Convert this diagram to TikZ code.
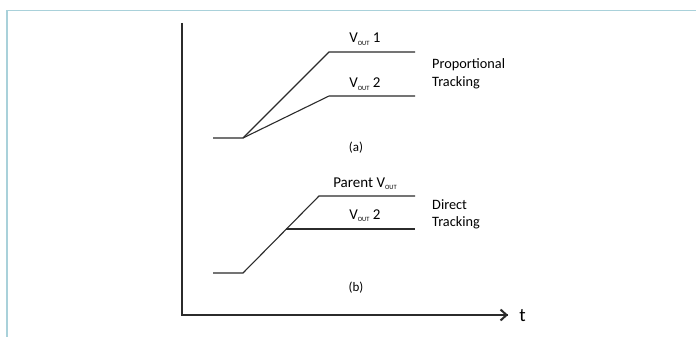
\documentclass[tikz,border=0pt]{standalone}
\usepackage{fontspec}
\setmainfont{Carlito}
\usetikzlibrary{arrows.meta}
\definecolor{frameblue}{HTML}{A9D1DA}
\definecolor{axisgray}{HTML}{2B2B2B}
\newcommand{\myvout}{V\raisebox{-2.4pt}{\fontsize{6.5}{7}\selectfont OUT}}
\begin{document}
\begin{tikzpicture}[x=1pt,y=-1pt,
  axis/.style={line width=2.4pt,color=axisgray},
  curve/.style={line width=1.1pt,color=axisgray},
  lbl/.style={inner sep=0pt,anchor=base,font=\fontsize{15}{18}\selectfont},
  side/.style={inner sep=0pt,anchor=base west,font=\fontsize{14.3}{17}\selectfont},
  subcap/.style={inner sep=0pt,font=\fontsize{13}{15}\selectfont}]
\useasboundingbox (0,0) rectangle (696,337);
\fill[white] (0,0) rectangle (696,337);
\draw[frameblue,line width=1.5pt] (7,345) -- (7,10.5) -- (705,10.5);
% axes
\coordinate (top) at (182,23);
\coordinate (origin) at (182,315);
\coordinate (tip) at (508,315);
\draw[axis] (top) -- (origin) -- (tip);
\draw[axis,-{Straight Barb[length=6pt,width=11pt,line width=2pt]}] (485,315) -- (tip);
\node[inner sep=0pt,anchor=base,font=\fontsize{19}{20}\selectfont] (t) at (522.5,321) {t};
% (a)
\coordinate (a0) at (213,138);
\coordinate (a1) at (243,138);
\coordinate (a2) at (329,52);
\coordinate (a3) at (415,52);
\coordinate (a4) at (329,96);
\coordinate (a5) at (415,96);
\draw[curve] (a0) -- (a1) -- (a2) -- (a3);
\draw[curve] (a1) -- (a4) -- (a5);
\node[lbl] (v1) at (365,43) {\myvout\ 1};
\node[lbl] (v2a) at (365,88) {\myvout\ 2};
\node[side] (prop) at (432,69) {Proportional};
\node[side] (track1) at (432,86) {Tracking};
\node[subcap] (capa) at (356,148) {(a)};
% (b)
\coordinate (b0) at (213,273);
\coordinate (b1) at (243,273);
\coordinate (b2) at (319,196);
\coordinate (b3) at (415,196);
\coordinate (b4) at (286.4,229);
\coordinate (b5) at (415,229);
\draw[curve] (b0) -- (b1) -- (b2) -- (b3);
\draw[curve] (b4) -- (b5);
\node[lbl] (par) at (365,187) {Parent \myvout};
\node[lbl] (v2b) at (365,219) {\myvout\ 2};
\node[side] (dir) at (432,209) {Direct};
\node[side] (track2) at (432,226.5) {Tracking};
\node[subcap] (capb) at (356,288) {(b)};
\end{tikzpicture}
\end{document}
